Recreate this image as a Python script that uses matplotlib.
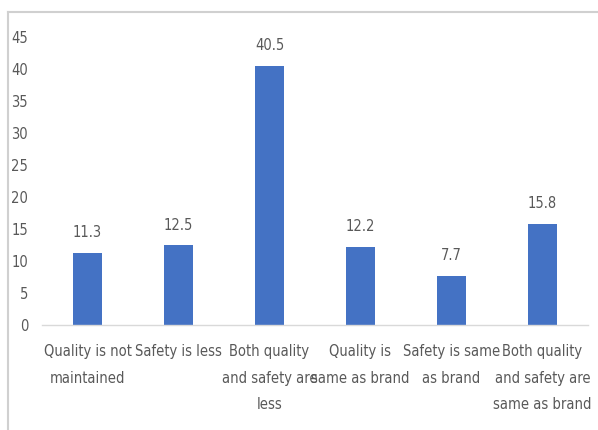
import matplotlib
matplotlib.use("Agg")
import matplotlib.pyplot as plt
from matplotlib.lines import Line2D

categories = [
    "Quality is not\nmaintained",
    "Safety is less",
    "Both quality\nand safety are\nless",
    "Quality is\nsame as brand",
    "Safety is same\nas brand",
    "Both quality\nand safety are\nsame as brand",
]
values = [11.3, 12.5, 40.5, 12.2, 7.7, 15.8]
yticks = [0, 5, 10, 15, 20, 25, 30, 35, 40, 45]

plt.rcParams['font.family'] = ['DejaVu Sans']
plt.rcParams['font.stretch'] = 'condensed'
txt = '#595959'
fs = 10.5

fig = plt.figure(figsize=(5.98, 4.30), dpi=100)
ax = fig.add_axes([42/598, 1-325/430, 546/598, (325-37)/430])

x = list(range(len(values)))
bars = ax.bar(x, values, width=0.31, color='#4472C4')
for b, v in zip(bars, values):
    ax.annotate(f"{v}", (b.get_x() + b.get_width()/2, v), xytext=(0, 9),
                textcoords='offset points', ha='center', va='bottom',
                fontsize=fs, color=txt)

ax.set_xlim(-0.5, len(values) - 0.5)
ax.set_ylim(0, 45)
ax.set_yticks(yticks)
ax.set_yticklabels([str(t) for t in yticks], fontsize=fs, color=txt)
ax.set_xticks(x)
ax.set_xticklabels(categories, fontsize=fs, color=txt, linespacing=1.95, va='top')
ax.tick_params(axis='both', length=0)
ax.tick_params(axis='y', pad=10)
ax.tick_params(axis='x', pad=14)
for s in ['top', 'right', 'left']:
    ax.spines[s].set_visible(False)
ax.spines['bottom'].set_color('#d9d9d9')
ax.spines['bottom'].set_linewidth(1.0)

# outer frame lines
fig.add_artist(Line2D([8/598, 1], [1-12/430, 1-12/430], transform=fig.transFigure,
                      color='#d0d0d0', lw=1.5))
fig.add_artist(Line2D([8/598, 8/598], [0, 1-12/430], transform=fig.transFigure,
                      color='#d0d0d0', lw=1.5))

fig.savefig("out.png", dpi=100)
